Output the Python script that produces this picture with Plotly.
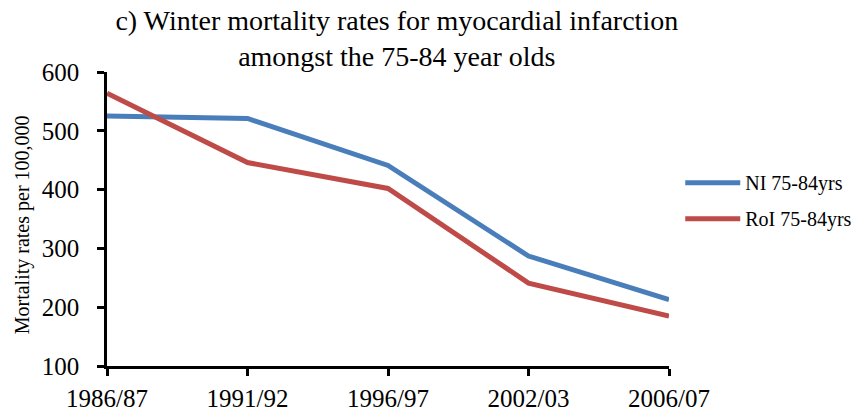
import plotly.graph_objects as go

periods = ["1986/87", "1991/92", "1996/97", "2002/03", "2006/07"]
ni_rates = [525, 521, 441, 287, 213]
roi_rates = [564, 446, 402, 241, 185]
y_ticks = [100, 200, 300, 400, 500, 600]

xpos = list(range(len(periods)))

fig = go.Figure()
fig.add_trace(go.Scatter(x=xpos, y=ni_rates, mode="lines", name="NI 75-84yrs",
                         line=dict(color="#4A7EBB", width=5), legendgroup="a"))
fig.add_trace(go.Scatter(x=xpos, y=roi_rates, mode="lines", name="RoI 75-84yrs",
                         line=dict(color="#BE4B48", width=5), legendgroup="b"))

FF = "Liberation Serif"
fig.update_layout(
    width=857, height=415,
    margin=dict(l=107, r=188, t=72, b=49, autoexpand=False),
    paper_bgcolor="white", plot_bgcolor="white",
    font=dict(family=FF, color="black"),
    title=dict(text="c) Winter mortality rates for myocardial infarction<br>amongst the 75-84 year olds",
               x=0.463, xref="container", xanchor="center",
               y=0.928, yref="container", yanchor="middle",
               font=dict(size=28, family=FF, color="black")),
    xaxis=dict(range=[0, 4], tickvals=xpos, ticktext=periods, showgrid=False, zeroline=False,
               showline=True, linecolor="black", linewidth=2.7, ticks="outside", ticklen=7,
               tickwidth=2.7, tickcolor="black", tickfont=dict(size=25, family=FF),
               ticklabelstandoff=1, automargin=False),
    yaxis=dict(range=[100, 600], tickvals=y_ticks, showgrid=False, zeroline=False,
               showline=True, linecolor="black", linewidth=2.7, ticks="outside", ticklen=7,
               tickwidth=2.7, tickcolor="black", tickfont=dict(size=25, family=FF),
               ticklabelstandoff=13, automargin=False),
    legend=dict(x=1.020, y=0.69, xanchor="left", yanchor="top", tracegroupgap=7,
                itemwidth=55,
                font=dict(size=20, family=FF), bgcolor="rgba(0,0,0,0)"),
    showlegend=True,
    annotations=[dict(text="Mortality rates per 100,000", textangle=-90,
                      xref="paper", yref="paper", x=-0.150, y=0.481,
                      xanchor="center", yanchor="middle", showarrow=False,
                      font=dict(size=20, family=FF, color="black"))],
)

fig.write_html("out.html", config={"displayModeBar": False},
               post_script="document.body.style.margin='0px';")
